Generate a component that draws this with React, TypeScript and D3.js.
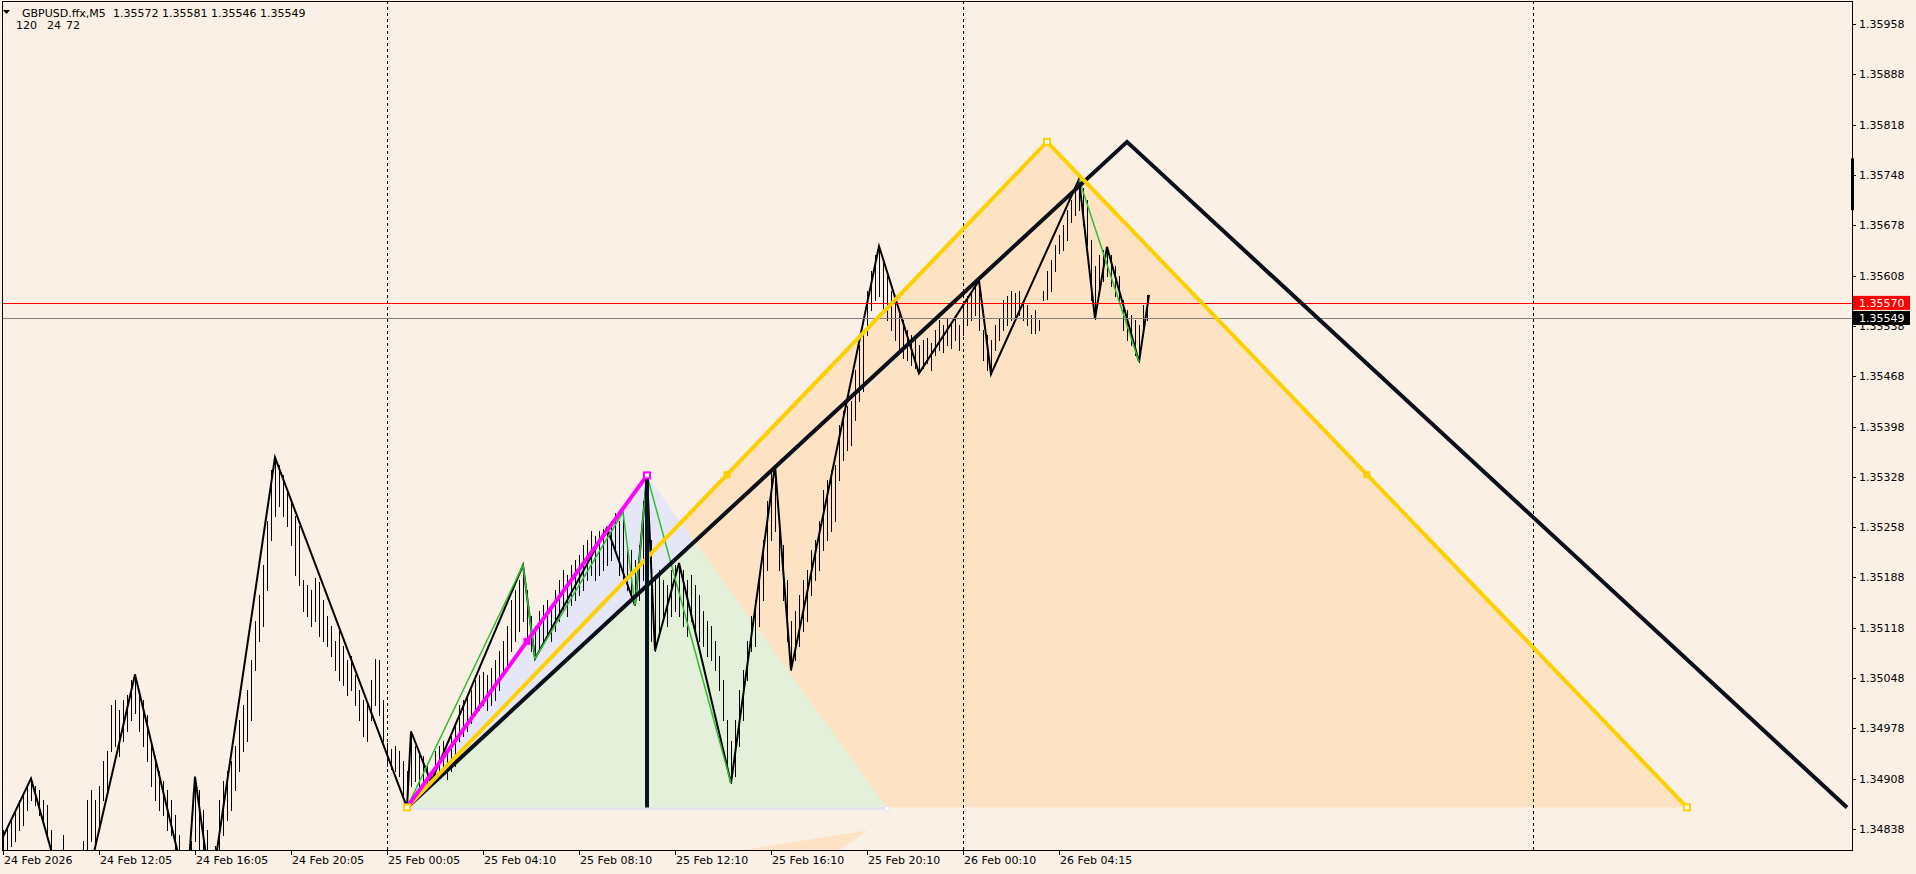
import { useEffect } from "react"
import * as d3 from "d3"

const WIDTH = 1916
const HEIGHT = 874

// right price axis
const priceTicks = [
  1.35958, 1.35888, 1.35818, 1.35748, 1.35678, 1.35608, 1.35538, 1.35468, 1.35398,
  1.35328, 1.35258, 1.35188, 1.35118, 1.35048, 1.34978, 1.34908, 1.34838,
]

// time axis: bar index of each label
const timeTickBars = [0, 48, 96, 144, 192, 240, 288, 336, 384, 432, 480, 528]
const timeTickLabels = [
  "24 Feb 2026", "24 Feb 12:05", "24 Feb 16:05", "24 Feb 20:05", "25 Feb 00:05", "25 Feb 04:10",
  "25 Feb 08:10", "25 Feb 12:10", "25 Feb 16:10", "25 Feb 20:10", "26 Feb 00:10", "26 Feb 04:15",
]

// day separators (bar index)
const separatorBars = [192, 480, 765]

// M5 bars, one entry per two bars (high / low)
const barHigh = [
  1.34836, 1.34839, 1.3485, 1.34861, 1.34878, 1.34885, 1.34898, 1.34908, 1.34898, 1.34892,
  1.34878, 1.34871, 1.34836, 1.34808, 1.34794, 1.34829, 1.34787, 1.34766, 1.34739, 1.34766,
  1.34822, 1.34878, 1.34892, 1.34878, 1.34898, 1.34933, 1.34947, 1.3501, 1.35017, 1.35003,
  1.35017, 1.35024, 1.35045, 1.35053, 1.35031, 1.35017, 1.34996, 1.34954, 1.3494, 1.34919,
  1.34905, 1.34892, 1.34878, 1.34857, 1.34829, 1.34808, 1.34794, 1.34822, 1.34911, 1.34892,
  1.34864, 1.34836, 1.34808, 1.34815, 1.34878, 1.34905, 1.34919, 1.34933, 1.34954, 1.34989,
  1.3501, 1.35031, 1.35073, 1.35128, 1.35163, 1.35205, 1.35267, 1.35337, 1.35355, 1.35344,
  1.3533, 1.35309, 1.35295, 1.35274, 1.3526, 1.35184, 1.35177, 1.3517, 1.35187, 1.35181,
  1.35156, 1.35135, 1.35121, 1.351, 1.35114, 1.35093, 1.35073, 1.35079, 1.35052, 1.35031,
  1.35017, 1.3501, 1.35045, 1.35075, 1.35073, 1.35017, 1.34958, 1.3495, 1.34954, 1.34947,
  1.34933, 1.34919, 1.34974, 1.34954, 1.34947, 1.3494, 1.34926, 1.34919, 1.34947, 1.34954,
  1.34961, 1.3495, 1.34968, 1.34982, 1.3501, 1.35017, 1.35024, 1.35031, 1.35045, 1.35052,
  1.35056, 1.35052, 1.35062, 1.35073, 1.35086, 1.351, 1.35121, 1.35156, 1.3517, 1.35184,
  1.35205, 1.3517, 1.35135, 1.35121, 1.35142, 1.35149, 1.35156, 1.35149, 1.3517, 1.35184,
  1.35198, 1.35191, 1.35205, 1.35212, 1.35219, 1.35233, 1.3524, 1.35253, 1.35246, 1.35253,
  1.35256, 1.35257, 1.35267, 1.35278, 1.35267, 1.35279, 1.35233, 1.35226, 1.35212, 1.35233,
  1.35295, 1.3533, 1.3524, 1.35191, 1.35198, 1.35184, 1.35177, 1.35198, 1.35205, 1.35208,
  1.35198, 1.35184, 1.35191, 1.35177, 1.35163, 1.35142, 1.35128, 1.35121, 1.351, 1.35079,
  1.35045, 1.34989, 1.34961, 1.34989, 1.35031, 1.35059, 1.351, 1.35135, 1.35156, 1.35184,
  1.3524, 1.35295, 1.35337, 1.35344, 1.35267, 1.35233, 1.35184, 1.35128, 1.35142, 1.35163,
  1.35184, 1.35198, 1.35226, 1.3524, 1.35267, 1.35309, 1.35323, 1.35337, 1.35344, 1.354,
  1.3542, 1.35427, 1.35434, 1.35476, 1.35511, 1.35532, 1.35587, 1.35615, 1.35636, 1.35649,
  1.35626, 1.35608, 1.35587, 1.35574, 1.3556, 1.35546, 1.35532, 1.35525, 1.35518, 1.35511,
  1.35518, 1.35521, 1.35514, 1.35532, 1.35546, 1.35539, 1.35549, 1.35543, 1.3555, 1.35539,
  1.35567, 1.3558, 1.35587, 1.35598, 1.35601, 1.35532, 1.35525, 1.35518, 1.35539, 1.35549,
  1.35574, 1.3558, 1.35587, 1.35584, 1.35587, 1.35574, 1.35567, 1.35553, 1.3556, 1.35546,
  1.35587, 1.35615, 1.35629, 1.3565, 1.35664, 1.35678, 1.35699, 1.35713, 1.35734, 1.35742,
  1.3573, 1.35713, 1.35657, 1.35622, 1.35636, 1.35643, 1.35648, 1.35636, 1.35622, 1.35608,
  1.35574, 1.3556, 1.35553, 1.35546, 1.35539, 1.35567, 1.35581,
]
const barLow = [
  1.34801, 1.34805, 1.34815, 1.34822, 1.34836, 1.34843, 1.34864, 1.34878, 1.34871, 1.34857,
  1.34843, 1.34829, 1.34794, 1.34766, 1.34745, 1.3478, 1.34732, 1.34711, 1.34691, 1.34711,
  1.34766, 1.34808, 1.34822, 1.34815, 1.34836, 1.34878, 1.34892, 1.34947, 1.34954, 1.3494,
  1.34961, 1.34975, 1.34989, 1.35, 1.34975, 1.34954, 1.34933, 1.34898, 1.34878, 1.34864,
  1.34857, 1.34836, 1.34829, 1.34808, 1.3478, 1.34766, 1.34752, 1.34752, 1.34822, 1.34808,
  1.34794, 1.34773, 1.34752, 1.34759, 1.34808, 1.34829, 1.3485, 1.34864, 1.34892, 1.34919,
  1.34947, 1.34961, 1.34989, 1.35059, 1.351, 1.35121, 1.3517, 1.3524, 1.35274, 1.35288,
  1.35274, 1.3526, 1.35233, 1.35191, 1.35177, 1.35142, 1.35135, 1.35121, 1.35128, 1.35107,
  1.351, 1.35093, 1.35079, 1.35059, 1.35045, 1.35038, 1.35024, 1.35031, 1.3501, 1.34989,
  1.34968, 1.34961, 1.34989, 1.3501, 1.34996, 1.34961, 1.34926, 1.34922, 1.34919, 1.34912,
  1.34885, 1.34868, 1.34898, 1.34905, 1.34898, 1.34901, 1.34898, 1.34903, 1.34908, 1.34912,
  1.34916, 1.34908, 1.34919, 1.34926, 1.34961, 1.34968, 1.34975, 1.34986, 1.34996, 1.35003,
  1.3501, 1.35003, 1.3501, 1.35017, 1.35031, 1.35052, 1.35066, 1.35086, 1.351, 1.35114,
  1.35128, 1.351, 1.35086, 1.35075, 1.35086, 1.351, 1.35107, 1.351, 1.35114, 1.35128,
  1.35142, 1.35135, 1.35149, 1.35156, 1.35163, 1.3517, 1.35184, 1.35191, 1.35184, 1.35191,
  1.35198, 1.35205, 1.35212, 1.35226, 1.35191, 1.35184, 1.3517, 1.35156, 1.35149, 1.35156,
  1.35184, 1.3518, 1.351, 1.35086, 1.35114, 1.35128, 1.35121, 1.35135, 1.35142, 1.35135,
  1.35121, 1.35107, 1.35128, 1.35114, 1.351, 1.35093, 1.35079, 1.35073, 1.35059, 1.35031,
  1.34989, 1.34926, 1.34902, 1.34912, 1.34954, 1.34989, 1.35045, 1.35086, 1.35093, 1.35121,
  1.35156, 1.35198, 1.3524, 1.35253, 1.35198, 1.35156, 1.351, 1.35059, 1.35073, 1.35093,
  1.35114, 1.35128, 1.35163, 1.35184, 1.35198, 1.35226, 1.3524, 1.35253, 1.35267, 1.35323,
  1.35351, 1.35365, 1.35372, 1.35407, 1.35434, 1.35448, 1.35525, 1.3556, 1.35574, 1.3558,
  1.35557, 1.35546, 1.35532, 1.35518, 1.35504, 1.35493, 1.3549, 1.35483, 1.35479, 1.35472,
  1.35479, 1.35487, 1.35476, 1.35497, 1.35504, 1.35501, 1.35511, 1.35507, 1.35518, 1.35504,
  1.35525, 1.35539, 1.35546, 1.35553, 1.35532, 1.3549, 1.35476, 1.35471, 1.35504, 1.35518,
  1.35532, 1.35539, 1.35546, 1.35549, 1.35553, 1.35546, 1.35539, 1.35528, 1.35528, 1.35532,
  1.35574, 1.35576, 1.35587, 1.35615, 1.35639, 1.35643, 1.35657, 1.35682, 1.35692, 1.35699,
  1.35678, 1.3565, 1.35574, 1.35548, 1.35587, 1.35601, 1.35608, 1.35594, 1.3558, 1.3557,
  1.35532, 1.35518, 1.35511, 1.35497, 1.35488, 1.35525, 1.35546,
]

// ZigZag indicator (bar index, price)
const zigzag: [number, number][] = [
  [0, 1.34827], [14, 1.34908], [36, 1.34691], [66, 1.35053], [92, 1.34752], [96, 1.34911],
  [104, 1.34752], [136, 1.35355], [202, 1.34868], [204, 1.34974], [214, 1.34903], [260, 1.35205],
  [266, 1.35075], [302, 1.35257], [316, 1.35149], [322, 1.3533], [326, 1.35086], [338, 1.35208],
  [364, 1.34902], [386, 1.35344], [394, 1.35059], [438, 1.35649], [458, 1.35472], [488, 1.35601],
  [494, 1.35471], [538, 1.35742], [546, 1.35548], [552, 1.35648], [568, 1.35488], [573, 1.35581],
]
const greenLegA: [number, number][] = [
  [202, 1.34868], [260, 1.35205], [266, 1.35075], [310, 1.35279], [316, 1.35149], [322, 1.3533], [364, 1.34902],
]
const greenLegB: [number, number][] = [[538, 1.35742], [568, 1.35488]]

// drawn objects
const yellowTriangle: [number, number][] = [[202, 1.34868], [522, 1.35794], [842, 1.34868]]
const blackTrend: [number, number][] = [[202, 1.34868], [562, 1.35794], [922, 1.34868]]
const magentaLeg: [number, number][] = [[202, 1.34868], [322, 1.3533]]
const greenTriangle: [number, number][] = [[202, 1.34868], [322, 1.3533], [442, 1.34868]]
const lowerWedge: [number, number][] = [[304, 1.3478], [432, 1.34836], [404, 1.3478]]
const axisMarker = [1.35771, 1.35699]

const askPrice = 1.3557
const bidPrice = 1.35549
const headerOhlc = [1.35572, 1.35581, 1.35546, 1.35549]
const headerParams = [120, 24, 72]

const FONT = "DejaVu Sans, Verdana, sans-serif"

function intersect(a: number[], b: number[], c: number[], d: number[]) {
  const den = (a[0] - b[0]) * (c[1] - d[1]) - (a[1] - b[1]) * (c[0] - d[0])
  const t = ((a[0] - c[0]) * (c[1] - d[1]) - (a[1] - c[1]) * (c[0] - d[0])) / den
  return [a[0] + t * (b[0] - a[0]), a[1] + t * (b[1] - a[1])]
}

export default function App() {
  useEffect(() => {
    document.body.style.margin = "0"
    document.body.style.background = "#FAF0E6"
  }, [])

  const left = 2
  const top = 1
  const right = 1852
  const bottom = 850

  const x = d3.scaleLinear().domain([0, 920]).range([3, 1843])
  const y = d3.scaleLinear().domain([1.34838, 1.35958]).range([829, 24])
  const px = (d: [number, number]) => [x(d[0]), y(d[1])]
  const line = d3
    .line<[number, number]>()
    .x((d) => x(d[0]))
    .y((d) => y(d[1]))
  const poly = (pts: number[][]) => pts.map((p) => p.join(",")).join(" ")

  const [A, B, G] = greenTriangle.map(px)
  const Q = px(blackTrend[1])
  const I = intersect(A, Q, B, G)

  const yellowMid = [
    [(yellowTriangle[0][0] + yellowTriangle[1][0]) / 2, (yellowTriangle[0][1] + yellowTriangle[1][1]) / 2],
    [(yellowTriangle[1][0] + yellowTriangle[2][0]) / 2, (yellowTriangle[1][1] + yellowTriangle[2][1]) / 2],
  ] as [number, number][]
  const magentaMid: [number, number] = [
    (magentaLeg[0][0] + magentaLeg[1][0]) / 2,
    (magentaLeg[0][1] + magentaLeg[1][1]) / 2,
  ]

  const hollow = (d: [number, number], color: string, key: string) => (
    <rect key={key} x={x(d[0]) - 3} y={y(d[1]) - 3} width={6} height={6} fill="#fff" stroke={color} strokeWidth={2} />
  )
  const filled = (d: [number, number], color: string, key: string) => (
    <rect key={key} x={x(d[0]) - 3.5} y={y(d[1]) - 3.5} width={7} height={7} fill={color} />
  )

  return (
    <svg
      width={WIDTH}
      height={HEIGHT}
      style={{ position: "absolute", left: 0, top: 0, display: "block" }}
      fontFamily={FONT}
    >
      <defs>
        <clipPath id="plot">
          <rect x={left} y={top} width={right - left} height={bottom - top} />
        </clipPath>
      </defs>
      <rect width={WIDTH} height={HEIGHT} fill="#FAF0E6" />

      <g clipPath="url(#plot)">
        {/* filled triangles */}
        <polygon points={poly(yellowTriangle.map(px))} fill="#FDE3C4" />
        <polygon points={poly([A, B, I])} fill="#E5E6F6" />
        <polygon points={poly([A, I, G])} fill="#E4F0DA" />
        <polygon points={poly(lowerWedge.map(px))} fill="#FDE3C4" />
        <line x1={A[0]} y1={A[1] + 1} x2={G[0]} y2={G[1] + 1} stroke="#E2E2F2" strokeWidth={2} />

        {/* day separators */}
        {separatorBars.map((b) => (
          <line
            key={b}
            x1={Math.round(x(b)) + 0.5}
            x2={Math.round(x(b)) + 0.5}
            y1={top}
            y2={bottom}
            stroke="#000"
            strokeDasharray="3,3"
          />
        ))}

        {/* bars */}
        <g stroke="#000" strokeWidth={1} shapeRendering="crispEdges">
          {barHigh.map((h, k) => (
            <line key={k} x1={x(k * 2) + 0.5} x2={x(k * 2) + 0.5} y1={y(h)} y2={y(barLow[k]) + 1} />
          ))}
        </g>

        {/* zigzag */}
        <path d={line(zigzag) || ""} fill="none" stroke="#000" strokeWidth={2} strokeLinejoin="miter" />
        <path d={line(greenLegA) || ""} fill="none" stroke="#2DBE2D" strokeWidth={1.5} />
        <path d={line(greenLegB) || ""} fill="none" stroke="#2DBE2D" strokeWidth={1.5} />

        {/* ask / bid lines */}
        <line x1={left} x2={right} y1={Math.round(y(askPrice)) + 0.5} y2={Math.round(y(askPrice)) + 0.5} stroke="#FF0000" />
        <line x1={left} x2={right} y1={Math.round(y(bidPrice)) + 0.5} y2={Math.round(y(bidPrice)) + 0.5} stroke="#7F7F7F" />

        {/* objects */}
        <path d={line(blackTrend) || ""} fill="none" stroke="#0B0F1A" strokeWidth={4} />
        <path d={line(yellowTriangle) || ""} fill="none" stroke="#FFD000" strokeWidth={4} />
        <path d={line(magentaLeg) || ""} fill="none" stroke="#FF00FF" strokeWidth={4} />
        <line x1={B[0]} x2={B[0]} y1={B[1]} y2={A[1]} stroke="#06141F" strokeWidth={4} />

        {filled(yellowMid[0], "#FFD000", "ym0")}
        {filled(yellowMid[1], "#FFD000", "ym1")}
        {filled(magentaMid, "#FF00FF", "mm")}
        {yellowTriangle.map((d, i) => hollow(d, "#FFD000", "yh" + i))}
        {hollow(magentaLeg[1], "#FF00FF", "mh")}
        <rect x={G[0] - 2} y={G[1] - 1} width={4} height={4} fill="#fff" stroke="#E2E2F2" />
      </g>

      {/* frame */}
      <rect x={left + 0.5} y={top + 0.5} width={right - left} height={bottom - top} fill="none" stroke="#000" />

      {/* right axis */}
      {priceTicks.map((p) => (
        <g key={p}>
          <line x1={right} x2={right + 4} y1={Math.round(y(p)) + 0.5} y2={Math.round(y(p)) + 0.5} stroke="#000" />
          <text x={right + 7} y={y(p) + 4} fontSize={11} fill="#000">
            {p.toFixed(5)}
          </text>
        </g>
      ))}
      <rect x={right - 1} y={y(axisMarker[0])} width={3} height={y(axisMarker[1]) - y(axisMarker[0])} fill="#000" />

      <rect x={right + 1} y={y(askPrice) - 7} width={57} height={14} fill="#FF0000" />
      <text x={right + 7} y={y(askPrice) + 4} fontSize={11} fill="#fff">
        {askPrice.toFixed(5)}
      </text>
      <rect x={right + 1} y={y(bidPrice) - 7} width={57} height={14} fill="#000" />
      <text x={right + 7} y={y(bidPrice) + 4} fontSize={11} fill="#fff">
        {bidPrice.toFixed(5)}
      </text>

      {/* time axis */}
      {timeTickBars.map((b, i) => (
        <g key={b}>
          <line x1={Math.round(x(b)) + 0.5} x2={Math.round(x(b)) + 0.5} y1={bottom} y2={bottom + 5} stroke="#000" />
          <text x={x(b) + 1} y={bottom + 14} fontSize={11} fill="#000">
            {timeTickLabels[i]}
          </text>
        </g>
      ))}

      {/* header */}
      <path d="M3,10 L10,10 L6.5,14 Z" fill="#000" />
      <text x={22} y={17} fontSize={11} fill="#000">
        GBPUSD.ffx,M5
      </text>
      <text x={113} y={17} fontSize={11} fill="#000">
        {headerOhlc.map((v) => v.toFixed(5)).join(" ")}
      </text>
      {headerParams.map((v, i) => (
        <text key={i} x={[16, 47, 66][i]} y={29} fontSize={11} fill="#000">
          {v}
        </text>
      ))}
    </svg>
  )
}
